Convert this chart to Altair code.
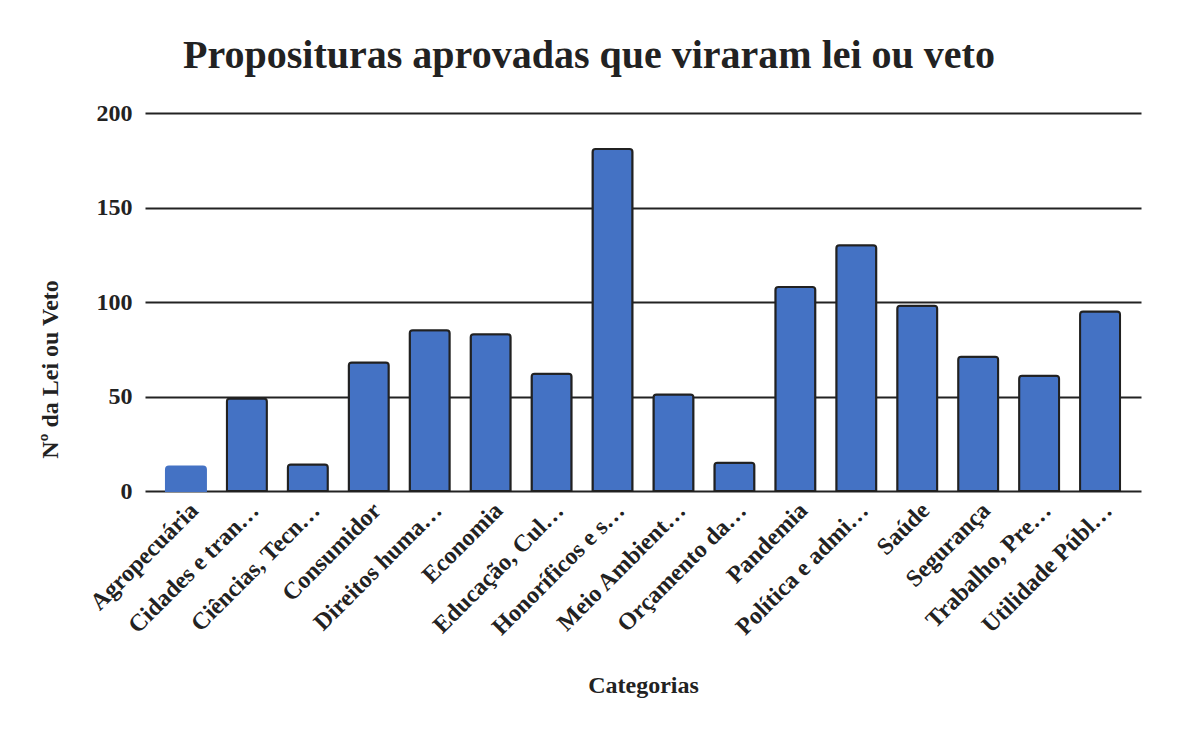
import altair as alt
import pandas as pd

categorias = [
    "Agropecuária", "Cidades e tran…", "Ciências, Tecn…", "Consumidor",
    "Direitos huma…", "Economia", "Educação, Cul…", "Honoríficos e s…",
    "Meio Ambient…", "Orçamento da…", "Pandemia", "Política e admi…",
    "Saúde", "Segurança", "Trabalho, Pre…", "Utilidade Públ…",
]
valores = [13, 49, 14, 68, 85, 83, 62, 181, 51, 15, 108, 130, 98, 71, 61, 95]

df = pd.DataFrame({"Categorias": categorias, "Valor": valores})

FONT = "Liberation Serif"
TXT = "#222222"

chart = (
    alt.Chart(df)
    .mark_bar(
        color="#4472C4",
        strokeWidth=2,
        cornerRadiusTopLeft=3,
        cornerRadiusTopRight=3,
    )
    .encode(
        x=alt.X(
            "Categorias:N",
            sort=categorias,
            scale=alt.Scale(paddingInner=0.344, paddingOuter=0.344),
            axis=alt.Axis(
                title="Categorias",
                labelAngle=-45,
                labelAlign="right",
                labelBaseline="top",
                labelFont=FONT,
                labelFontSize=24,
                labelFontWeight="bold",
                labelColor=TXT,
                labelPadding=7,
                labelLimit=400,
                titleFont=FONT,
                titleFontSize=24,
                titleFontWeight="bold",
                titleColor=TXT,
                titleBaseline="alphabetic",
                titleY=201,
                ticks=False,
                domain=False,
                grid=False,
            ),
        ),
        y=alt.Y(
            "Valor:Q",
            scale=alt.Scale(domain=[0, 200], nice=False),
            axis=alt.Axis(
                title="Nº da Lei ou Veto",
                values=[0, 50, 100, 150, 200],
                labelFont=FONT,
                labelFontSize=24,
                labelFontWeight="bold",
                labelColor=TXT,
                labelPadding=13,
                titleFont=FONT,
                titleFontSize=24,
                titleFontWeight="bold",
                titleColor=TXT,
                titleX=-83,
                titleY=256,
                ticks=False,
                domain=False,
                grid=True,
                gridColor=TXT,
                gridWidth=2,
                gridOpacity=1,
            ),
        ),
        stroke=alt.condition(
            alt.datum.Categorias == "Agropecuária",
            alt.value("#4472C4"),
            alt.value("#212121"),
        ),
    )
    .properties(
        width=996,
        height=378,
        title=alt.TitleParams(
            "Proposituras aprovadas que viraram lei ou veto",
            font=FONT,
            fontSize=40,
            fontWeight="bold",
            color=TXT,
            anchor="middle",
            dx=-54,
            offset=25,
        ),
        autosize=alt.AutoSizeParams(type="none"),
        padding={"left": 137, "top": 105, "right": 25, "bottom": 220},
    )
    .configure_view(stroke=None)
)

chart.save("out.html", embed_options={"renderer": "svg", "actions": False})
